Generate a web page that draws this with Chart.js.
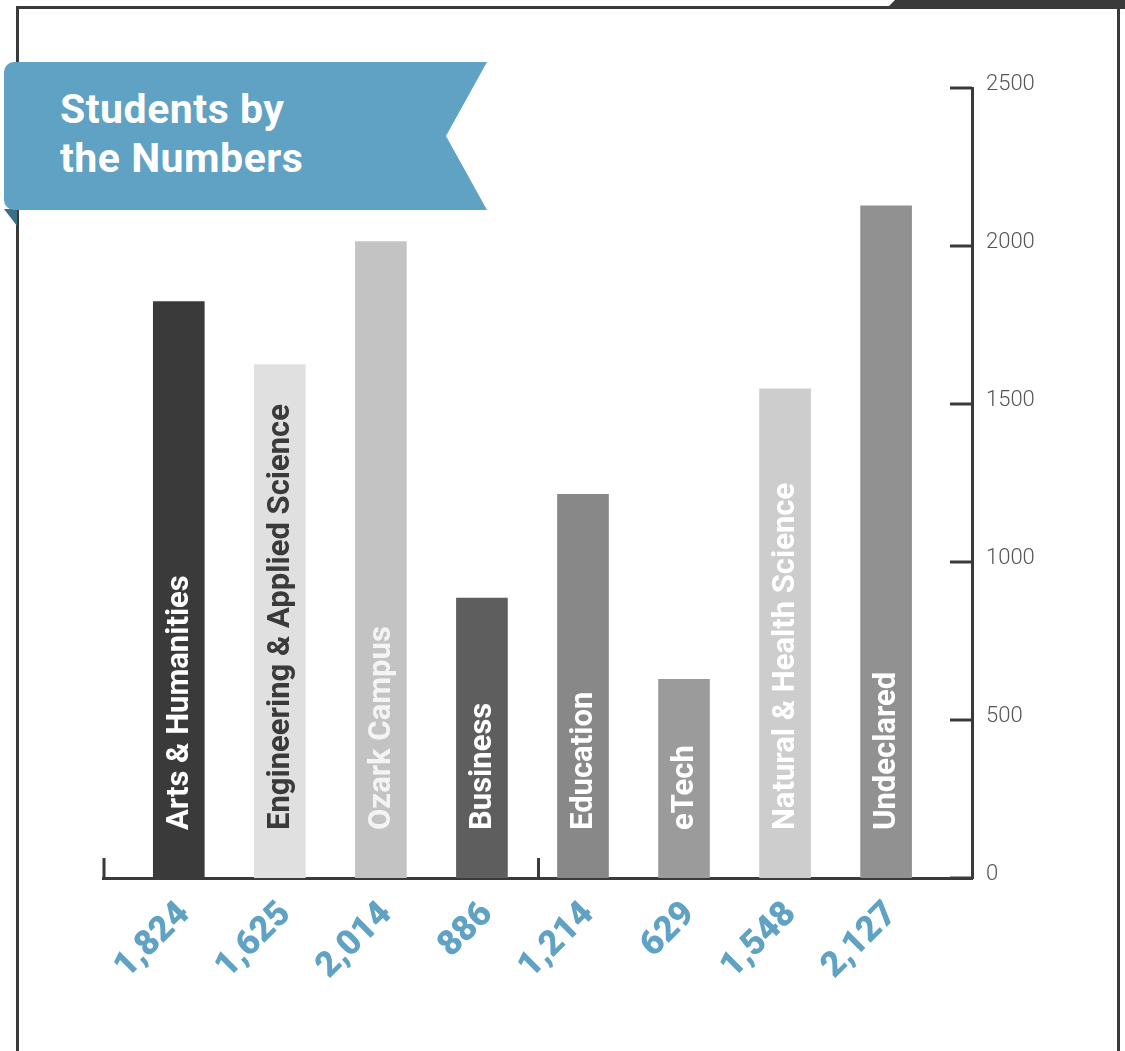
<!DOCTYPE html>
<html>
<head>
<meta charset="utf-8">
<script src="https://cdn.jsdelivr.net/npm/chart.js@4.4.1/dist/chart.umd.min.js"></script>
<style>
    body { margin: 0; background: #fff; }
    #wrap { position: relative; width: 1125px; height: 1051px; overflow: hidden; font-family: Roboto, 'Noto Sans', sans-serif; }
    #chart { position: absolute; left: 0; top: 0; }
    .frame { position: absolute; left: 16px; top: 6px; width: 1098px; height: 1200px; border: 3px solid #3a3a3a; }
    .tab { position: absolute; left: 886px; top: 0; width: 239px; height: 9px; background: #3a3a3a; clip-path: polygon(9px 0, 100% 0, 100% 100%, 0 100%); }
    .banner {
        position: absolute; left: 4px; top: 62px; width: 427px; height: 125.5px;
        padding: 22.5px 0 0 56px;
        background: #5fa2c3; border-radius: 10px 0 0 10px;
        clip-path: polygon(0 0, 100% 0, calc(100% - 41px) 50%, 100% 100%, 0 100%);
        color: #fff; font-weight: bold; font-size: 41px; line-height: 49px; letter-spacing: 0.5px;
    }
    .fold { position: absolute; left: 4px; top: 209px; width: 13px; height: 17px; background: #3b6f89; clip-path: polygon(0 0, 100% 0, 100% 100%); }
</style>
</head>
<body>
<div id="wrap">
    <canvas id="chart" width="1125" height="1051"></canvas>
    <div class="frame"></div>
    <div class="tab"></div>
    <div class="fold"></div>
    <div class="banner">Students by<br>the Numbers</div>
</div>
<script>
const categories = ['Arts & Humanities', 'Engineering & Applied Science', 'Ozark Campus', 'Business', 'Education', 'eTech', 'Natural & Health Science', 'Undeclared']
const students = [1824, 1625, 2014, 886, 1214, 629, 1548, 2127]
const yTicks = [0, 500, 1000, 1500, 2000, 2500]

const barColors = ['#3a3a3a', '#e0e0e0', '#c3c3c3', '#5e5e5e', '#888888', '#9b9b9b', '#cdcdcd', '#919191']
const labelColors = ['#ffffff', '#3a3a3a', '#f4f4f4', '#ffffff', '#ffffff', '#ffffff', '#ffffff', '#ffffff']
const axisColor = '#3a3a3a'

// labels inside the bars + the little tick marks
const decorations = {
    id: 'decorations',
    afterDatasetsDraw(chart) {
        const ctx = chart.ctx
        const meta = chart.getDatasetMeta(0)
        ctx.save()
        ctx.font = 'bold 31px Roboto'
        ctx.textAlign = 'left'
        ctx.textBaseline = 'middle'
        meta.data.forEach((bar, i) => {
            ctx.save()
            ctx.translate(bar.x + 1, bar.base - 48)
            ctx.rotate(-Math.PI / 2)
            ctx.fillStyle = labelColors[i]
            ctx.fillText(categories[i], 0, 0)
            ctx.restore()
        })
        ctx.restore()
    },
    afterDraw(chart) {
        const ctx = chart.ctx
        const area = chart.chartArea
        const x = chart.scales.x
        const y = chart.scales.y
        ctx.save()
        ctx.strokeStyle = axisColor
        ctx.lineWidth = 3
        y.ticks.forEach(t => {
            const py = y.getPixelForValue(t.value)
            ctx.beginPath()
            ctx.moveTo(area.right - 22, py)
            ctx.lineTo(area.right, py)
            ctx.stroke()
        })
        ;[area.left + 1, x.getPixelForValue(3.56)].forEach(px => {
            ctx.beginPath()
            ctx.moveTo(px, area.bottom)
            ctx.lineTo(px, area.bottom - 20)
            ctx.stroke()
        })
        ctx.restore()
    }
}

new Chart(document.querySelector('#chart'), {
    type: 'bar',
    data: {
        datasets: [{
            data: students.map((v, i) => ({ x: i, y: v })),
            backgroundColor: barColors,
            barThickness: 51,
            borderWidth: 0
        }]
    },
    options: {
        responsive: false,
        animation: false,
        events: [],
        layout: { padding: { left: 103, top: 88, right: 0, bottom: 0 } },
        plugins: {
            legend: { display: false },
            tooltip: { enabled: false }
        },
        scales: {
            x: {
                type: 'linear',
                offset: false,
                min: -0.75,
                max: 7.85,
                grid: { display: false, offset: false },
                border: { display: true, color: axisColor, width: 3 },
                afterBuildTicks: s => { s.ticks = categories.map((c, i) => ({ value: i })) },
                afterFit: s => { s.height = 173 },
                ticks: {
                    autoSkip: false,
                    minRotation: 45,
                    maxRotation: 45,
                    padding: 8,
                    labelOffset: 6,
                    color: '#5fa2c3',
                    font: { family: 'Roboto', size: 35, weight: '900' },
                    callback: v => students[Math.round(v)].toLocaleString('en-US')
                }
            },
            y: {
                position: 'right',
                min: 0,
                max: 2500,
                grid: { display: false },
                border: { display: true, color: axisColor, width: 3 },
                afterBuildTicks: s => { s.ticks = yTicks.map(v => ({ value: v })) },
                afterFit: s => { s.width = 153 },
                ticks: {
                    padding: 6,
                    labelOffset: -4,
                    color: '#555555',
                    font: { family: 'Roboto', size: 22, weight: '300' },
                    callback: v => String(v)
                }
            }
        }
    },
    plugins: [decorations]
})
</script>
</body>
</html>
